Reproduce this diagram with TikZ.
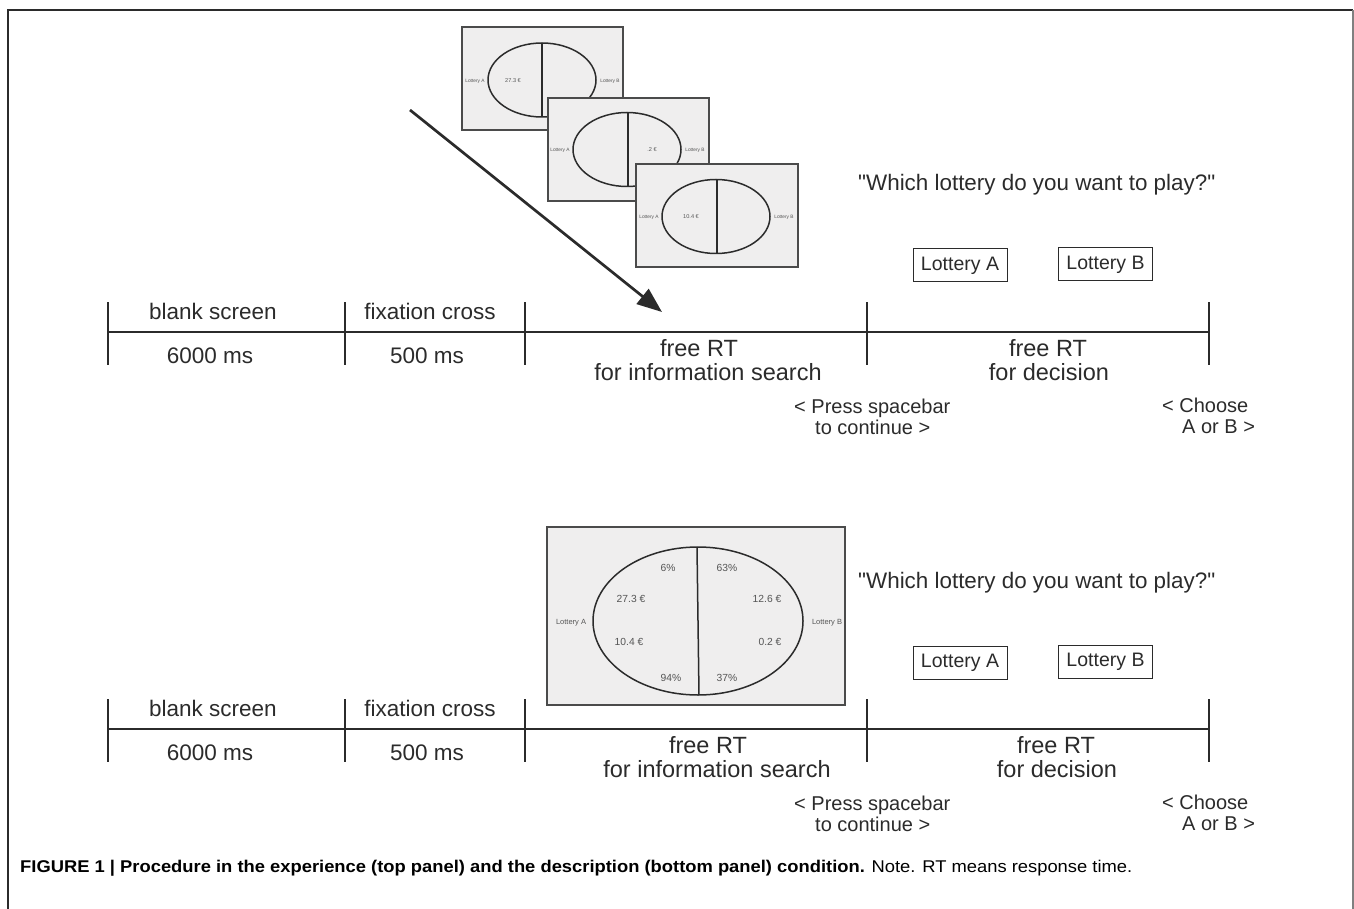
\documentclass[tikz,border=0pt]{standalone}
\usepackage{fontspec}
\setmainfont{Liberation Sans}
\newfontfamily\plainsans{Liberation Sans}
\usepackage{graphicx}
\usetikzlibrary{arrows.meta}
\definecolor{ink}{HTML}{2B2B2B}
\definecolor{soft}{HTML}{555555}
\definecolor{screenfill}{HTML}{EFEEEE}
\begin{document}
\begin{tikzpicture}[x=1pt,y=-1pt,
  every node/.style={inner sep=0pt, text=ink},
  tline/.style={line width=2.4pt, draw=ink},
  lbl/.style={font=\fontsize{22.5}{26}\selectfont, anchor=base},
  rtl/.style={font=\fontsize{23.5}{26}\selectfont, anchor=base},
  resp/.style={font=\fontsize{20}{23}\selectfont, anchor=base west},
  quest/.style={font=\plainsans\fontsize{22.4}{26}\selectfont, anchor=base west},
  choice/.style={draw=ink, line width=1pt, font=\fontsize{19.5}{22}\selectfont, minimum width=94pt, minimum height=33pt},
  screen/.style={draw=ink!85, line width=1.5pt, fill=screenfill},
  oval/.style={draw=ink, line width=1.5pt},
  tinyl/.style={font=\fontsize{4.8}{5}\selectfont, text=soft},
  tinyv/.style={font=\fontsize{5.6}{6}\selectfont, text=soft},
  smalll/.style={font=\fontsize{7.5}{8}\selectfont, text=soft},
  smallv/.style={font=\fontsize{10.3}{11}\selectfont, text=soft},
  frame/.style={line width=1.5pt, draw=ink}
]
\useasboundingbox (0,0) rectangle (1354,909);

% outer frame
\coordinate (fbl) at (8,909);
\coordinate (ftl) at (8,10);
\coordinate (ftr) at (1353,10);
\coordinate (fbr) at (1353,909);
\draw[frame] (fbl) -- (ftl) -- (ftr);
\draw[line width=1.5pt, draw=gray] (ftr) -- (fbr);

% timelines (top and bottom panel)
\foreach \p/\dy in {t/0,b/397}{
\begin{scope}[yshift=-\dy pt]
  \foreach \i/\x in {0/108,1/345,2/525,3/867,4/1209}{
    \coordinate (\p u\i) at (\x,302);
    \coordinate (\p d\i) at (\x,365);
    \coordinate (\p m\i) at (\x,332);
    \draw[tline] (\p u\i) -- (\p d\i);
  }
  \draw[tline] (\p m0) -- (\p m4);
  \node[lbl] (\p blank) at (213,319) {blank screen};
  \node[lbl] (\p sixk) at (210,363) {6000 ms};
  \node[lbl] (\p fix) at (430,319) {fixation cross};
  \node[lbl] (\p five) at (427,363) {500 ms};
  \node[resp] (\p press) at (794,413) {< Press spacebar};
  \node[resp] (\p cont) at (815,434) {to continue >};
  \node[resp] (\p choose) at (1162,412) {< Choose};
  \node[resp] (\p aorb) at (1182,433) {A or B >};
  \node[choice] (\p la) at (960,265.5) {Lottery A};
  \node[choice] (\p lb) at (1105.5,264.5) {Lottery B};
  \node[quest] (\p q) at (858,191) {"Which lottery do you want to play?"};
\end{scope}
}

% free RT labels
\node[rtl] (tfree1) at (699,356) {free RT};
\node[rtl] (tinfo) at (708,380) {for information search};
\node[rtl] (tfree2) at (1048,356) {free RT};
\node[rtl] (tdec) at (1049,380) {for decision};
\node[rtl] (bfree1) at (708,753) {free RT};
\node[rtl] (binfo) at (717,777) {for information search};
\node[rtl] (bfree2) at (1056,753) {free RT};
\node[rtl] (bdec) at (1057,777) {for decision};

% top panel: three screens
\draw[screen] (462,27) rectangle (623,130);
\draw[oval] (542,80) ellipse [x radius=54, y radius=37];
\draw[oval] (542,43) -- (542,117);
\node[tinyl] (s1a) at (475,81) {Lottery A};
\node[tinyv] (s1v) at (513,81) {27.3 €};
\node[tinyl] (s1b) at (610,81) {Lottery B};

\draw[screen] (548,98) rectangle (709,201);
\draw[oval] (627,149.5) ellipse [x radius=54, y radius=37];
\draw[oval] (628,113) -- (628,186);
\node[tinyl] (s2a) at (560,150) {Lottery A};
\node[tinyv] (s2v) at (652,150) {.2 €};
\node[tinyl] (s2b) at (695,150) {Lottery B};

\draw[screen] (636,164) rectangle (798,267);
\draw[oval] (716,216.5) ellipse [x radius=54, y radius=37];
\draw[oval] (717,180) -- (717,253);
\node[tinyl] (s3a) at (649,217) {Lottery A};
\node[tinyv] (s3v) at (691,217) {10.4 €};
\node[tinyl] (s3b) at (784,217) {Lottery B};

% arrow
\coordinate (arrS) at (410,110);
\coordinate (arrE) at (662,312);
\draw[line width=2.7pt, draw=ink, -{Triangle[length=25pt,width=19pt]}] (arrS) -- (arrE);

% bottom panel: description screen
\draw[screen] (547,527) rectangle (845,705);
\draw[oval] (698,621) ellipse [x radius=105, y radius=74];
\draw[oval] (697,547) -- (699,695);
\node[smallv] (d6) at (668,568) {6\%};
\node[smallv] (d63) at (727,568) {63\%};
\node[smallv] (d273) at (631,599) {27.3 €};
\node[smallv] (d126) at (767,599) {12.6 €};
\node[smalll] (dla) at (571,623) {Lottery A};
\node[smalll] (dlb) at (827,623) {Lottery B};
\node[smallv] (d104) at (629,642) {10.4 €};
\node[smallv] (d02) at (770,642) {0.2 €};
\node[smallv] (d94) at (671,678) {94\%};
\node[smallv] (d37) at (727,678) {37\%};

% caption
\node[anchor=base west, text=black] (cap) at (20,872) {\resizebox{1112pt}{\height}{\fontsize{17}{19}\selectfont\textbf{FIGURE 1 | Procedure in the experience (top panel) and the description (bottom panel) condition.} Note. RT means response time.}};
\end{tikzpicture}
\end{document}
